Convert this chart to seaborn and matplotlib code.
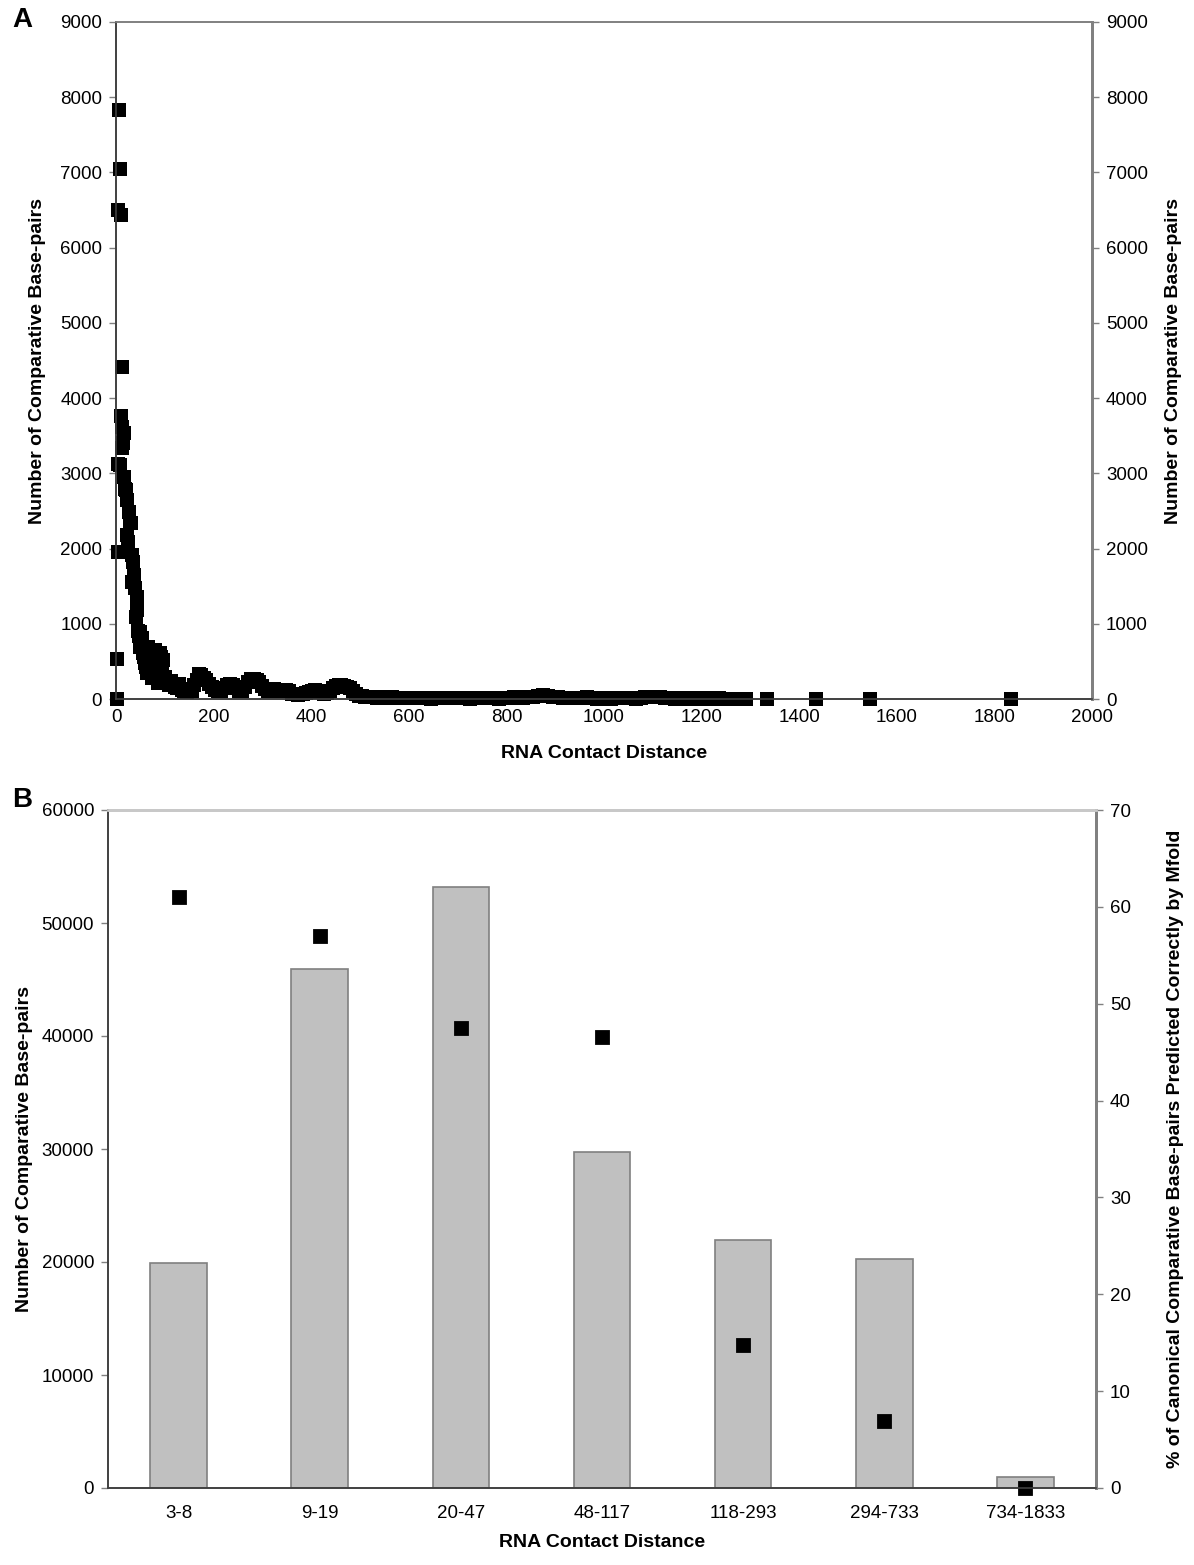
import numpy as np
import pandas as pd
import matplotlib
matplotlib.use("Agg")
import matplotlib.pyplot as plt
import seaborn as sns

# Panel A: base-pair counts per contact distance
dist_short = [2, 3, 4, 4, 5, 6, 8, 8, 10, 10, 12, 12, 13, 14, 16, 16, 18, 20, 22, 23,
              25, 26, 27, 29, 31, 33, 33, 35, 37, 39, 41, 43, 43, 45, 47, 49, 49, 51, 53, 55,
              57, 60, 62, 64, 66, 68, 70, 72, 74, 76, 78, 80, 82, 84, 86, 88, 90, 92, 94, 96,
              98, 101, 104, 108, 112, 115, 120, 125, 130, 135, 140, 146, 150, 155, 160, 165]
count_short = [0, 530, 1950, 6500, 3130, 7830, 7040, 3110, 6430, 3760, 4420, 3620, 3340, 3400, 3540, 2950, 2790, 2780, 2650, 2180,
               2090, 2490, 2480, 2340, 2340, 1910, 1560, 1820, 1650, 1480, 1090, 1360, 1180, 900, 840, 890, 690, 760, 810, 610,
               560, 480, 420, 350, 690, 620, 560, 500, 280, 450, 380, 650, 330, 400, 210, 300, 610, 560, 480, 520,
               250, 290, 220, 180, 240, 190, 160, 150, 200, 120, 100, 90, 130, 110, 190, 250]

dist_mid = [170, 175, 180, 185, 190, 197, 203, 208, 215, 222, 228, 234, 240, 246, 252, 258, 264, 270, 276, 282,
            288, 294, 300, 306, 312, 318, 324, 330, 336, 342, 348, 354, 360, 366, 372, 378, 384, 390, 396, 402,
            408, 414, 420, 426, 432, 438, 444, 450, 456, 462, 468, 474, 480, 486, 492, 498, 504, 510, 516, 522,
            528, 535]
count_mid = [330, 320, 280, 250, 200, 160, 120, 100, 110, 150, 190, 200, 180, 150, 100, 110, 160, 220, 260, 270,
             250, 220, 170, 130, 110, 120, 130, 120, 100, 110, 120, 100, 70, 60, 50, 60, 70, 80, 90, 110,
             120, 110, 90, 70, 80, 110, 150, 170, 180, 180, 170, 160, 140, 100, 60, 40, 40, 30, 30, 20,
             20, 15]

dist_long = [545, 555, 565, 575, 585, 595, 605, 615, 625, 635, 645, 655, 665, 675, 685, 695, 705, 715, 725, 735,
             745, 755, 765, 775, 785, 795, 805, 815, 825, 835, 845, 855, 865, 875, 885, 895, 905, 915, 925, 935,
             945, 955, 965, 975, 985, 995, 1005, 1015, 1025, 1035, 1045, 1055, 1065, 1075, 1085, 1095, 1105, 1115,
             1125, 1135, 1145, 1155, 1165, 1175, 1185, 1195, 1205, 1215, 1225, 1235, 1245, 1255, 1265,
             1277, 1291, 1335, 1435, 1546, 1834]
count_long = [20, 15, 20, 10, 15, 10, 10, 15, 10, 10, 5, 10, 10, 15, 10, 10, 10, 10, 5, 10,
              10, 15, 10, 10, 5, 10, 15, 20, 20, 15, 20, 30, 45, 50, 40, 30, 20, 15, 10, 10,
              10, 15, 20, 10, 5, 10, 5, 5, 10, 10, 15, 10, 5, 10, 20, 25, 30, 20,
              10, 10, 5, 10, 5, 10, 5, 10, 5, 10, 5, 10, 5, 5, 5,
              0, 0, 0, 0, 0, 0]

# Panel B: binned distances
bins = ["3-8", "9-19", "20-47", "48-117", "118-293", "294-733", "734-1833"]
bp_counts = [19950, 45900, 53150, 29700, 21950, 20250, 1000]
pct_correct = [61.0, 57.0, 47.5, 46.6, 14.8, 6.9, 0.0]

df_a = pd.DataFrame({
    "dist": dist_short + dist_mid + dist_long,
    "count": count_short + count_mid + count_long,
})
df_b = pd.DataFrame({"bin": bins, "n": bp_counts, "pct": pct_correct})

sns.set_theme(style="white")
plt.rcParams["font.family"] = ["Liberation Sans", "DejaVu Sans"]
plt.rcParams["text.color"] = "black"
plt.rcParams["axes.labelcolor"] = "black"
plt.rcParams["xtick.color"] = "black"
plt.rcParams["ytick.color"] = "black"

DARK = "#404040"
GRAY = "#808080"
LIGHT = "#c8c8c8"
TICK_FS = 13.5
LAB_FS = 14

fig = plt.figure(figsize=(11.94, 15.65), dpi=100)

# ---- panel A
ax1 = fig.add_axes([116 / 1194, 1 - 699 / 1565, 976 / 1194, 677 / 1565])
sns.scatterplot(data=df_a, x="dist", y="count", marker="s", s=100, color="black",
                linewidth=0, ax=ax1, clip_on=False, zorder=5)
ax1.set_xlim(0, 2000)
ax1.set_ylim(0, 9000)
ax1.set_xticks(np.arange(0, 2001, 200))
ax1.set_yticks(np.arange(0, 9001, 1000))
ax1.set_xlabel("RNA Contact Distance", fontsize=LAB_FS, fontweight="bold", labelpad=14)
ax1.set_ylabel("Number of Comparative Base-pairs", fontsize=LAB_FS, fontweight="bold", labelpad=10)
ax1.tick_params(axis="x", direction="in", length=5, width=1, color=DARK, labelsize=TICK_FS, pad=7)
ax1.tick_params(axis="y", direction="out", length=5, width=1, color=GRAY, labelsize=TICK_FS, pad=5)

ax1r = ax1.twinx()
ax1r.set_ylim(0, 9000)
ax1r.set_yticks(np.arange(0, 9001, 1000))
ax1r.set_ylabel("Number of Comparative Base-pairs", fontsize=LAB_FS, fontweight="bold", labelpad=12)
ax1r.tick_params(axis="y", direction="out", length=5, width=1, color=GRAY, labelsize=TICK_FS, pad=5)

for a in (ax1, ax1r):
    a.spines["left"].set_color(DARK)
    a.spines["bottom"].set_color(DARK)
    a.spines["right"].set_color(GRAY)
    a.spines["top"].set_color(GRAY)
    for s in a.spines.values():
        s.set_linewidth(1.2)
    a.spines["right"].set_linewidth(2)

fig.text(12 / 1194, 1 - 20 / 1565, "A", fontsize=20, fontweight="bold", va="center", ha="left")

# ---- panel B
ax2 = fig.add_axes([108 / 1194, 1 - 1488 / 1565, 988 / 1194, 678 / 1565])
sns.barplot(data=df_b, x="bin", y="n", color="#c0c0c0", saturation=1, width=0.4,
            edgecolor=GRAY, linewidth=1.2, ax=ax2)
ax2.set_ylim(0, 60000)
ax2.set_yticks(np.arange(0, 60001, 10000))
ax2.set_xlim(-0.5, len(bins) - 0.5)
ax2.set_xlabel("RNA Contact Distance", fontsize=LAB_FS, fontweight="bold", labelpad=9)
ax2.set_ylabel("Number of Comparative Base-pairs", fontsize=LAB_FS, fontweight="bold", labelpad=6)
ax2.tick_params(axis="x", which="major", length=0, labelsize=TICK_FS, pad=12)
ax2.set_xticks(np.arange(0.5, len(bins) - 0.5, 1), minor=True)
ax2.tick_params(axis="x", which="minor", direction="out", length=6, width=1, color=GRAY)
ax2.tick_params(axis="y", direction="out", length=5, width=1, color=GRAY, labelsize=TICK_FS, pad=5)

ax2r = ax2.twinx()
sns.pointplot(data=df_b, x="bin", y="pct", linestyle="none", marker="s", markersize=9,
              color="black", ax=ax2r)
for c in ax2r.collections:
    c.set_clip_on(False)
for ln in ax2r.lines:
    ln.set_clip_on(False)
ax2r.set_xlim(-0.5, len(bins) - 0.5)
ax2r.set_ylim(0, 70)
ax2r.set_yticks(np.arange(0, 71, 10))
ax2r.set_ylabel("% of Canonical Comparative Base-pairs Predicted Correctly by Mfold",
                fontsize=LAB_FS, fontweight="bold", labelpad=26)
ax2r.tick_params(axis="y", direction="out", length=5, width=1, color=GRAY, labelsize=TICK_FS, pad=5)

for a in (ax2, ax2r):
    a.spines["left"].set_color(DARK)
    a.spines["bottom"].set_color(DARK)
    a.spines["right"].set_color(GRAY)
    a.spines["top"].set_color(LIGHT)
    for s in a.spines.values():
        s.set_linewidth(1.2)
    a.spines["top"].set_linewidth(2)
    a.spines["right"].set_linewidth(2)

fig.text(12 / 1194, 1 - 800 / 1565, "B", fontsize=20, fontweight="bold", va="center", ha="left")

fig.savefig("out.png", dpi=100)
